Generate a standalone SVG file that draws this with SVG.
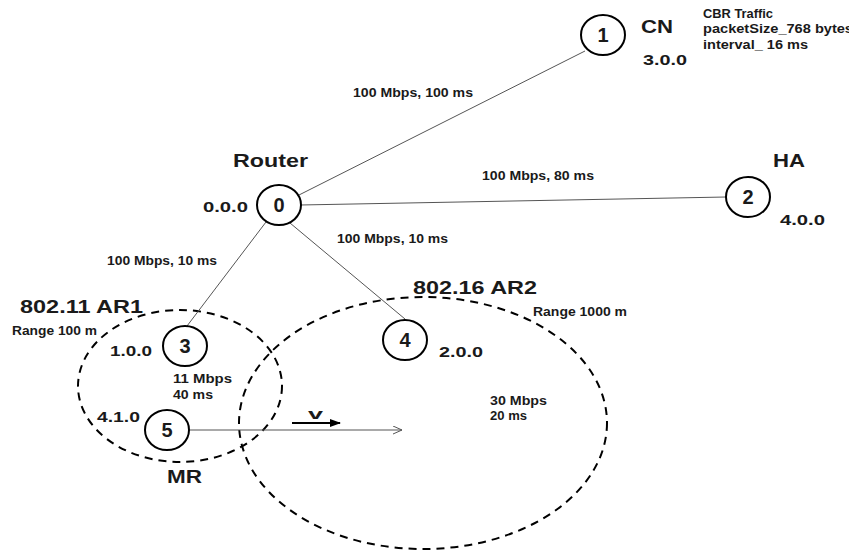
<svg xmlns="http://www.w3.org/2000/svg" width="849" height="552" viewBox="0 0 849 552">
<style>
.t{font-family:"Liberation Sans",Arial,sans-serif;font-weight:bold;fill:#1a1a1a}
.big{font-size:18px}
.mid{font-size:15px}
.sm{font-size:12px}
.num{font-size:20px;text-anchor:middle}
.node{fill:#fff;stroke:#000;stroke-width:2}
.link{stroke:#555;stroke-width:1;fill:none}
.range{fill:none;stroke:#000;stroke-width:2;stroke-dasharray:8 6}
</style>
<defs>
<marker id="open" markerWidth="10" markerHeight="10" refX="9" refY="4" orient="auto" markerUnits="userSpaceOnUse">
<path d="M0,0 L9,4 L0,8" fill="none" stroke="#555" stroke-width="1"/>
</marker>
<marker id="solid" markerWidth="12" markerHeight="10" refX="10" refY="4" orient="auto" markerUnits="userSpaceOnUse">
<path d="M0,0 L11,4 L0,8 Z" fill="#000"/>
</marker>
</defs>
<rect width="849" height="552" fill="#fff"/>
<g id="ranges">
<ellipse class="range" cx="180" cy="386" rx="102" ry="76"/>
<ellipse class="range" cx="423" cy="423" rx="184" ry="126"/>
</g>
<g id="connectors">
<line class="link" x1="297" y1="196" x2="585" y2="51"/>
<line class="link" x1="300" y1="205" x2="726" y2="197"/>
<line class="link" x1="266" y1="222" x2="187" y2="326"/>
<line class="link" x1="290" y1="223" x2="405" y2="319"/>
<line class="link" x1="189" y1="430" x2="402" y2="430" marker-end="url(#open)"/>
<line x1="292" y1="423" x2="340" y2="423" stroke="#000" stroke-width="2" marker-end="url(#solid)"/>
</g>
<g id="labels">
<text class="t sm" x="353" y="97" textLength="120" lengthAdjust="spacingAndGlyphs">100 Mbps, 100 ms</text>
<text class="t sm" x="482" y="180" textLength="112" lengthAdjust="spacingAndGlyphs">100 Mbps, 80 ms</text>
<text class="t sm" x="337" y="243" textLength="111" lengthAdjust="spacingAndGlyphs">100 Mbps, 10 ms</text>
<text class="t sm" x="107" y="265" textLength="110" lengthAdjust="spacingAndGlyphs">100 Mbps, 10 ms</text>
<text class="t sm" x="703" y="18" textLength="70" lengthAdjust="spacingAndGlyphs">CBR Traffic</text>
<text class="t sm" x="703" y="33" textLength="150" lengthAdjust="spacingAndGlyphs">packetSize_768 bytes</text>
<text class="t sm" x="703" y="49" textLength="105" lengthAdjust="spacingAndGlyphs">interval_ 16 ms</text>
<text class="t big" x="20" y="313" textLength="123" lengthAdjust="spacingAndGlyphs">802.11 AR1</text>
<text class="t sm" x="12" y="335" textLength="85" lengthAdjust="spacingAndGlyphs">Range 100 m</text>
<text class="t big" x="413" y="294" textLength="124" lengthAdjust="spacingAndGlyphs">802.16 AR2</text>
<text class="t sm" x="533" y="316" textLength="94" lengthAdjust="spacingAndGlyphs">Range 1000 m</text>
<text class="t sm" x="173" y="383" textLength="59" lengthAdjust="spacingAndGlyphs">11 Mbps</text>
<text class="t sm" x="173" y="399" textLength="40" lengthAdjust="spacingAndGlyphs">40 ms</text>
<text class="t sm" x="490" y="405" textLength="57" lengthAdjust="spacingAndGlyphs">30 Mbps</text>
<text class="t sm" x="490" y="420" textLength="37" lengthAdjust="spacingAndGlyphs">20 ms</text>
<text class="t mid" x="308" y="419" textLength="15" lengthAdjust="spacingAndGlyphs">v</text>
</g>
<g id="n1">
<ellipse class="node" cx="603" cy="35" rx="22" ry="20"/>
<text class="t num" x="603" y="42">1</text>
<text class="t big" x="641" y="33" textLength="32" lengthAdjust="spacingAndGlyphs">CN</text>
<text class="t mid" x="643" y="65" textLength="44" lengthAdjust="spacingAndGlyphs">3.0.0</text>
</g>
<g id="n0">
<ellipse class="node" cx="279" cy="205" rx="22" ry="20"/>
<text class="t num" x="279" y="212">0</text>
<text class="t big" x="233" y="167" textLength="75" lengthAdjust="spacingAndGlyphs">Router</text>
<text class="t mid" x="203" y="212" textLength="45" lengthAdjust="spacingAndGlyphs">0.0.0</text>
</g>
<g id="n2">
<ellipse class="node" cx="748" cy="197" rx="22" ry="20"/>
<text class="t num" x="748" y="204">2</text>
<text class="t big" x="773" y="167" textLength="32" lengthAdjust="spacingAndGlyphs">HA</text>
<text class="t mid" x="780" y="225" textLength="45" lengthAdjust="spacingAndGlyphs">4.0.0</text>
</g>
<g id="n3">
<ellipse class="node" cx="185" cy="346" rx="22" ry="20"/>
<text class="t num" x="185" y="353">3</text>
<text class="t mid" x="110" y="356" textLength="42" lengthAdjust="spacingAndGlyphs">1.0.0</text>
</g>
<g id="n4">
<ellipse class="node" cx="405" cy="340" rx="22" ry="20"/>
<text class="t num" x="405" y="347">4</text>
<text class="t mid" x="439" y="357" textLength="44" lengthAdjust="spacingAndGlyphs">2.0.0</text>
</g>
<g id="n5">
<ellipse class="node" cx="167" cy="430" rx="22" ry="20"/>
<text class="t num" x="167" y="437">5</text>
<text class="t mid" x="97" y="422" textLength="43" lengthAdjust="spacingAndGlyphs">4.1.0</text>
<text class="t big" x="167" y="483" textLength="35" lengthAdjust="spacingAndGlyphs">MR</text>
</g>
</svg>
